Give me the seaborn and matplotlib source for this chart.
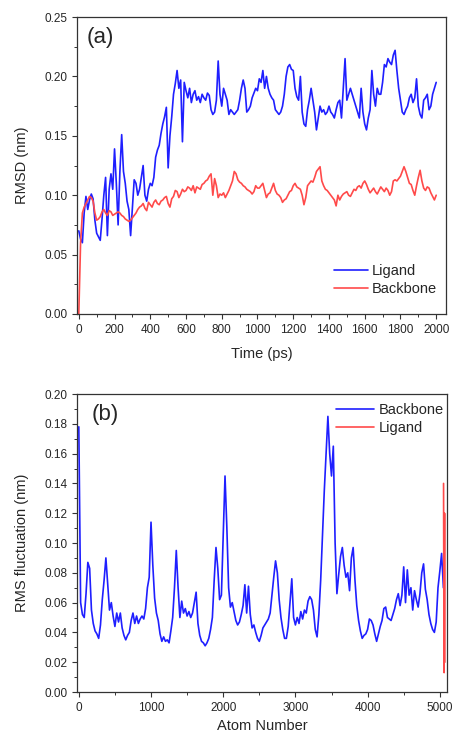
import numpy as np
import pandas as pd
import matplotlib
matplotlib.use("Agg")
import matplotlib.pyplot as plt
from matplotlib.ticker import MultipleLocator
import seaborn as sns

# ---- (a) RMSD vs time, one value every 10 ps ----
time_ps = np.arange(0, 2001, 10)

ligand_rmsd = [
    0.070, 0.063, 0.060, 0.085, 0.099, 0.088, 0.096, 0.101, 0.097, 0.079,
    0.068, 0.065, 0.062, 0.080, 0.100, 0.115, 0.066, 0.105, 0.118, 0.105,
    0.139, 0.110, 0.075, 0.120, 0.151, 0.120, 0.110, 0.095, 0.088, 0.066,
    0.090, 0.113, 0.110, 0.100, 0.105, 0.115, 0.125, 0.100, 0.095, 0.105,
    0.110, 0.108, 0.115, 0.132, 0.138, 0.142, 0.152, 0.160, 0.166, 0.174,
    0.123, 0.150, 0.166, 0.185, 0.194, 0.205, 0.190, 0.197, 0.145, 0.195,
    0.188, 0.182, 0.190, 0.178, 0.185, 0.188, 0.180, 0.183, 0.178, 0.185,
    0.182, 0.180, 0.186, 0.184, 0.172, 0.168, 0.170, 0.180, 0.213, 0.185,
    0.175, 0.190, 0.185, 0.180, 0.168, 0.172, 0.170, 0.168, 0.170, 0.172,
    0.180, 0.190, 0.197, 0.190, 0.170, 0.172, 0.175, 0.182, 0.186, 0.190,
    0.188, 0.198, 0.195, 0.205, 0.190, 0.200, 0.190, 0.185, 0.182, 0.180,
    0.172, 0.170, 0.168, 0.170, 0.175, 0.185, 0.200, 0.208, 0.210, 0.206,
    0.205, 0.190, 0.183, 0.180, 0.200, 0.170, 0.160, 0.158, 0.172, 0.180,
    0.190, 0.180, 0.170, 0.155, 0.165, 0.175, 0.170, 0.172, 0.168, 0.170,
    0.175, 0.170, 0.168, 0.165, 0.172, 0.178, 0.180, 0.165, 0.190, 0.215,
    0.180, 0.185, 0.190, 0.185, 0.180, 0.175, 0.170, 0.165, 0.190, 0.170,
    0.160, 0.155, 0.165, 0.172, 0.205, 0.185, 0.175, 0.190, 0.185, 0.185,
    0.195, 0.210, 0.208, 0.215, 0.212, 0.210, 0.218, 0.222, 0.205, 0.190,
    0.180, 0.170, 0.168, 0.172, 0.175, 0.182, 0.185, 0.178, 0.182, 0.198,
    0.175, 0.168, 0.165, 0.180, 0.182, 0.185, 0.172, 0.175, 0.185, 0.190,
    0.195,
]

backbone_rmsd = [
    0.000, 0.060, 0.085, 0.090, 0.093, 0.096, 0.099, 0.098, 0.095, 0.085,
    0.079, 0.080, 0.082, 0.086, 0.088, 0.085, 0.083, 0.087, 0.086, 0.083,
    0.084, 0.085, 0.086, 0.085, 0.083, 0.082, 0.080, 0.079, 0.078, 0.079,
    0.081, 0.083, 0.085, 0.088, 0.090, 0.091, 0.093, 0.089, 0.087, 0.094,
    0.092, 0.090, 0.094, 0.096, 0.093, 0.092, 0.095, 0.096, 0.098, 0.099,
    0.093, 0.090, 0.097, 0.099, 0.104, 0.103, 0.098, 0.101, 0.105, 0.103,
    0.104, 0.107, 0.106, 0.104, 0.108, 0.102, 0.107, 0.106, 0.105, 0.109,
    0.110, 0.112, 0.113, 0.116, 0.118, 0.100, 0.114, 0.108, 0.098, 0.101,
    0.100, 0.102, 0.098, 0.101, 0.104, 0.108, 0.112, 0.120, 0.118, 0.113,
    0.111, 0.110, 0.108, 0.107, 0.105, 0.104, 0.103, 0.101, 0.103, 0.108,
    0.106, 0.106, 0.108, 0.110, 0.104, 0.098, 0.101, 0.102, 0.106, 0.110,
    0.104, 0.101, 0.100, 0.098, 0.094, 0.096, 0.097, 0.100, 0.103, 0.104,
    0.108, 0.110, 0.107, 0.106, 0.105, 0.100, 0.092, 0.098, 0.108, 0.110,
    0.112, 0.111, 0.115, 0.120, 0.122, 0.124, 0.112, 0.108, 0.105, 0.104,
    0.102, 0.100, 0.098, 0.096, 0.091, 0.100, 0.096, 0.099, 0.101, 0.102,
    0.103, 0.100, 0.099, 0.102, 0.105, 0.104, 0.107, 0.108, 0.106, 0.110,
    0.112, 0.109, 0.105, 0.102, 0.104, 0.106, 0.103, 0.101, 0.104, 0.107,
    0.105, 0.103, 0.106, 0.104, 0.100, 0.103, 0.112, 0.113, 0.112, 0.114,
    0.116, 0.120, 0.124, 0.120, 0.115, 0.110, 0.109, 0.104, 0.100, 0.108,
    0.115, 0.121, 0.112, 0.106, 0.104, 0.107, 0.106, 0.102, 0.099, 0.096,
    0.100,
]

# ---- (b) RMS fluctuation per atom, backbone sampled every 25 atoms ----
atom_backbone = np.arange(0, 5051, 25)

backbone_rmsf = [
    0.178, 0.060, 0.052, 0.050, 0.066, 0.087, 0.083, 0.055, 0.046, 0.041,
    0.039, 0.036, 0.045, 0.062, 0.075, 0.090, 0.072, 0.055, 0.060, 0.051,
    0.044, 0.053, 0.047, 0.053, 0.043, 0.038, 0.035, 0.038, 0.040, 0.048,
    0.053, 0.046, 0.051, 0.046, 0.049, 0.051, 0.049, 0.056, 0.070, 0.077,
    0.114, 0.085, 0.063, 0.053, 0.048, 0.039, 0.034, 0.037, 0.034, 0.035,
    0.033, 0.041, 0.050, 0.070, 0.095, 0.070, 0.050, 0.061, 0.053, 0.056,
    0.051, 0.054, 0.050, 0.053, 0.060, 0.067, 0.046, 0.038, 0.034, 0.033,
    0.031, 0.033, 0.036, 0.042, 0.050, 0.075, 0.097, 0.083, 0.062, 0.065,
    0.105, 0.145, 0.111, 0.070, 0.057, 0.060, 0.054, 0.048, 0.045, 0.047,
    0.052, 0.058, 0.072, 0.053, 0.071, 0.052, 0.043, 0.045, 0.040, 0.036,
    0.034, 0.038, 0.043, 0.045, 0.047, 0.049, 0.053, 0.065, 0.077, 0.088,
    0.080, 0.062, 0.050, 0.042, 0.036, 0.036, 0.044, 0.060, 0.076, 0.050,
    0.045, 0.050, 0.046, 0.054, 0.049, 0.055, 0.053, 0.061, 0.064, 0.062,
    0.055, 0.042, 0.037, 0.052, 0.075, 0.105, 0.135, 0.160, 0.185, 0.160,
    0.145, 0.165, 0.100, 0.066, 0.079, 0.091, 0.097, 0.085, 0.077, 0.080,
    0.068, 0.090, 0.097, 0.075, 0.058, 0.048, 0.041, 0.036, 0.038, 0.039,
    0.042, 0.049, 0.048, 0.045, 0.039, 0.034, 0.039, 0.044, 0.048, 0.056,
    0.057, 0.050, 0.049, 0.048, 0.052, 0.056, 0.062, 0.066, 0.058, 0.065,
    0.084, 0.060, 0.082, 0.065, 0.070, 0.055, 0.068, 0.062, 0.057, 0.066,
    0.080, 0.086, 0.069, 0.062, 0.052, 0.046, 0.042, 0.040, 0.047, 0.070,
    0.081, 0.093, 0.070,
]

atom_ligand = [5052, 5054, 5056, 5058, 5060, 5062, 5064, 5066, 5068, 5070]
ligand_rmsf = [0.140, 0.100, 0.060, 0.030, 0.013, 0.050, 0.090, 0.120, 0.080, 0.020]

blue = "#1f1fff"
red = "#ff4a4a"

sns.set_style("ticks")
plt.rcParams["font.family"] = ["Liberation Sans", "DejaVu Sans"]

fig = plt.figure(figsize=(4.53, 7.35), dpi=100)
ax1 = fig.add_axes([0.170, 0.5728, 0.8146, 0.404])
ax2 = fig.add_axes([0.170, 0.0585, 0.8168, 0.4054])

# panel (a)
sns.lineplot(x=time_ps, y=ligand_rmsd, ax=ax1, color=blue, linewidth=1.2, label="Ligand")
sns.lineplot(x=time_ps, y=backbone_rmsd, ax=ax1, color=red, linewidth=1.2, label="Backbone")
ax1.set_xlim(-10, 2055)
ax1.set_ylim(0, 0.25)
ax1.xaxis.set_major_locator(MultipleLocator(200))
ax1.xaxis.set_minor_locator(MultipleLocator(100))
ax1.yaxis.set_major_locator(MultipleLocator(0.05))
ax1.yaxis.set_minor_locator(MultipleLocator(0.025))
ax1.yaxis.set_major_formatter(matplotlib.ticker.FormatStrFormatter("%.2f"))
ax1.set_xlabel("Time (ps)", fontsize=10.5, labelpad=8)
ax1.set_ylabel("RMSD (nm)", fontsize=10.5, labelpad=11)
ax1.text(0.025, 0.965, "(a)", transform=ax1.transAxes, fontsize=16, va="top", ha="left")
ax1.legend(loc="lower right", bbox_to_anchor=(1.0, 0.03), frameon=False, fontsize=10.5,
           handlelength=2.3, handletextpad=0.3, labelspacing=0.3, borderaxespad=0.2)

# panel (b)
sns.lineplot(x=atom_backbone, y=backbone_rmsf, ax=ax2, color=blue, linewidth=1.2, label="Backbone")
sns.lineplot(x=atom_ligand, y=ligand_rmsf, ax=ax2, color=red, linewidth=1.2, label="Ligand")
ax2.set_xlim(-25, 5100)
ax2.set_ylim(0, 0.20)
ax2.xaxis.set_major_locator(MultipleLocator(1000))
ax2.xaxis.set_minor_locator(MultipleLocator(500))
ax2.yaxis.set_major_locator(MultipleLocator(0.02))
ax2.yaxis.set_minor_locator(MultipleLocator(0.01))
ax2.yaxis.set_major_formatter(matplotlib.ticker.FormatStrFormatter("%.2f"))
ax2.set_xlabel("Atom Number", fontsize=10.5, labelpad=4)
ax2.set_ylabel("RMS fluctuation (nm)", fontsize=10.5, labelpad=11)
ax2.text(0.04, 0.965, "(b)", transform=ax2.transAxes, fontsize=16, va="top", ha="left")
ax2.legend(loc="upper right", bbox_to_anchor=(1.015, 1.0), frameon=False, fontsize=10.5,
           handlelength=2.6, handletextpad=0.3, labelspacing=0.3, borderaxespad=0.2)

for ax in (ax1, ax2):
    for sp in ax.spines.values():
        sp.set_linewidth(0.9)
        sp.set_color("#333333")
    ax.tick_params(axis="both", which="major", direction="out", length=3.5, width=0.8,
                   labelsize=8.5, color="#333333")
    ax.tick_params(axis="both", which="minor", direction="out", length=2, width=0.7, color="#333333")

fig.savefig("out.png", dpi=100)
